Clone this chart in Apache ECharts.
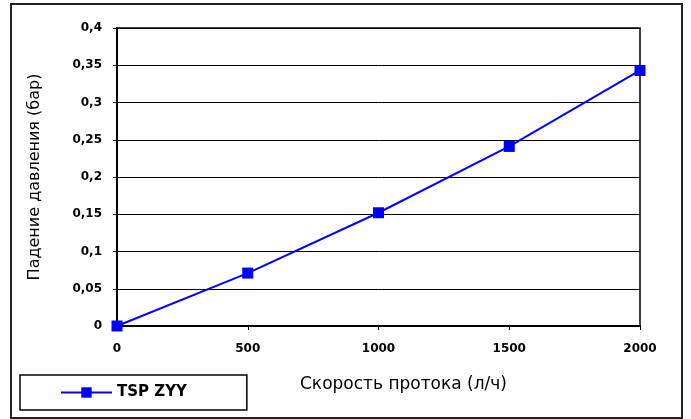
<!DOCTYPE html>
<html>
<head>
<meta charset="utf-8">
<script src="https://cdn.jsdelivr.net/npm/echarts@6/dist/echarts.min.js"></script>
<style>
html, body { margin: 0; padding: 0; background: #fff; }
#main { width: 691px; height: 419px; }
</style>
</head>
<body>
<div id="main"></div>
<script>
var flow = [0, 500, 1000, 1500, 2000];
var drop = [0, 0.071, 0.152, 0.241, 0.343];
var seriesName = 'TSP ZYY';
var xTitle = 'Скорость протока (л/ч)';
var yTitle = 'Падение давления (бар)';

var myChart = echarts.init(document.getElementById('main'));

var data = [];
for (var i = 0; i < flow.length; i++) {
	data.push([flow[i], drop[i]]);
}

var option = {
	animation: false,
	backgroundColor: '#fff',
	grid: {
		left: 117,
		right: 51,
		top: 28,
		bottom: 93,
		show: true,
		borderColor: '#000',
		borderWidth: 1.5
	},
	legend: {
		left: 20,
		top: 375,
		width: 225,
		padding: [10, 60, 10, 40],
		borderColor: '#000',
		borderWidth: 1.5,
		itemWidth: 51,
		itemHeight: 13,
		itemGap: 5,
		textStyle: { fontFamily: 'DejaVu Sans', fontWeight: 'bold', fontSize: 15, color: '#000' },
		data: [seriesName]
	},
	xAxis: {
		type: 'value',
		min: 0,
		max: 2000,
		interval: 500,
		name: xTitle,
		nameLocation: 'middle',
		nameGap: 50,
		nameTextStyle: { fontFamily: 'DejaVu Sans', fontSize: 17, color: '#000', padding: [0, 0, 0, 50] },
		axisLine: { lineStyle: { color: '#000', width: 2 } },
		axisTick: { show: true, length: 4, lineStyle: { color: '#000' } },
		axisLabel: {
			margin: 17,
			fontFamily: 'DejaVu Sans',
			fontWeight: 'bold',
			fontSize: 12,
			color: '#000',
			formatter: function (v) { return String(v); }
		},
		splitLine: { show: false }
	},
	yAxis: {
		type: 'value',
		min: 0,
		max: 0.4,
		interval: 0.05,
		name: yTitle,
		nameLocation: 'middle',
		nameGap: 74,
		nameTextStyle: { fontFamily: 'DejaVu Sans', fontSize: 16, color: '#000' },
		axisLine: { show: true, lineStyle: { color: '#000', width: 2 } },
		axisTick: { show: true, length: 4, lineStyle: { color: '#000' } },
		axisLabel: {
			margin: 15,
			fontFamily: 'DejaVu Sans',
			fontWeight: 'bold',
			fontSize: 12,
			color: '#000',
			formatter: function (v) {
				return String(Math.round(v * 100) / 100).replace('.', ',');
			}
		},
		splitLine: { show: true, lineStyle: { color: '#000', width: 1 } }
	},
	graphic: [{
		type: 'rect',
		shape: { x: 11, y: 4, width: 671, height: 414 },
		style: { fill: null, stroke: '#222', lineWidth: 2 },
		z: -1
	}],
	series: [{
		name: seriesName,
		type: 'line',
		data: data,
		symbol: 'rect',
		symbolSize: 11,
		lineStyle: { color: '#0000ff', width: 2 },
		itemStyle: { color: '#0000ff' },
		z: 5
	}]
};
myChart.setOption(option);
</script>
</body>
</html>
